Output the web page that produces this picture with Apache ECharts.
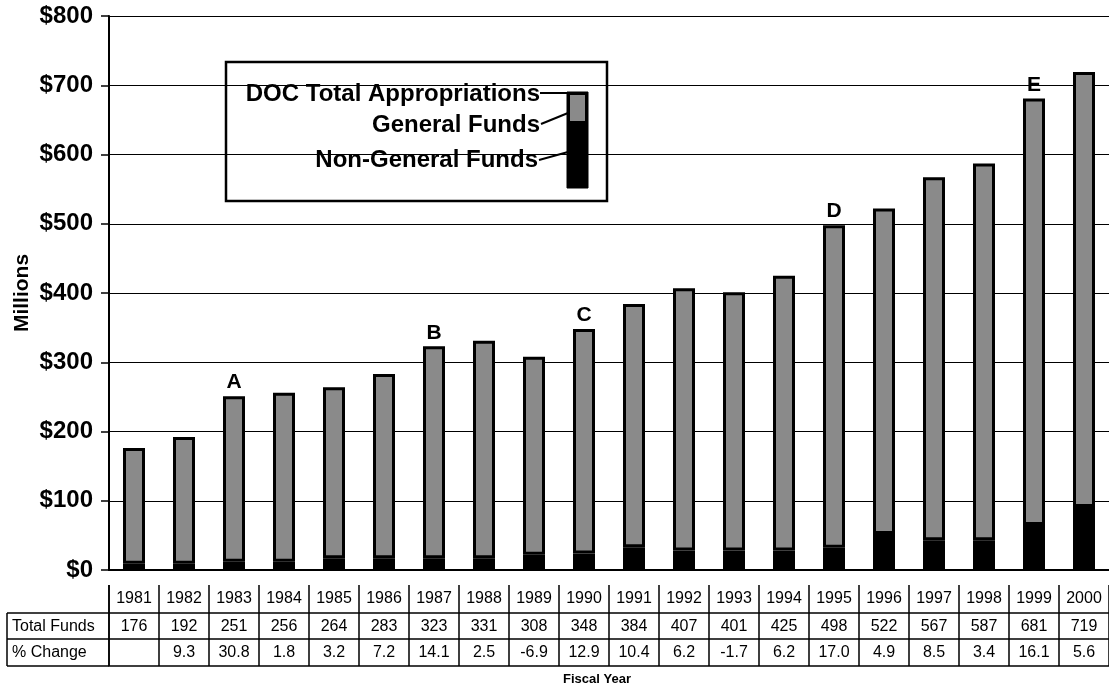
<!DOCTYPE html>
<html>
<head>
<meta charset="utf-8">
<script src="https://cdn.jsdelivr.net/npm/echarts@6/dist/echarts.min.js"></script>
<style>
html,body{margin:0;padding:0;background:#fff;}
#chart{width:1109px;height:690px;}
</style>
</head>
<body>
<div id="chart"></div>
<script>
const years = ['1981','1982','1983','1984','1985','1986','1987','1988','1989','1990','1991','1992','1993','1994','1995','1996','1997','1998','1999','2000'];
const totalFunds = [176,192,251,256,264,283,323,331,308,348,384,407,401,425,498,522,567,587,681,719];
const nonGeneralFunds = [9,9,12,12,17,17,17,17,22,24,33,28,28,28,32,52,43,43,65,91];
const pctChange = ['','9.3','30.8','1.8','3.2','7.2','14.1','2.5','-6.9','12.9','10.4','6.2','-1.7','6.2','17.0','4.9','8.5','3.4','16.1','5.6'];
const annotations = ['','','A','','','','B','','','C','','','','','D','','','','E',''];
const yTicks = [0,100,200,300,400,500,600,700,800];

const generalFunds = totalFunds.map((t, i) => t - nonGeneralFunds[i]);
const FONT = '"Liberation Sans", Arial, sans-serif';

const chart = echarts.init(document.getElementById('chart'), null, {renderer: 'canvas'});

function tableAxis(offset, labels, tickLen, margin, showLabels) {
  return {
    type: 'category',
    data: years,
    gridIndex: 0,
    position: 'bottom',
    offset: offset,
    axisLine: {show: true, lineStyle: {color: '#000', width: 1.5}},
    axisTick: {show: true, inside: true, length: tickLen, interval: 0, lineStyle: {color: '#000', width: 1.5}},
    axisLabel: {
      show: showLabels, interval: 0, margin: margin,
      formatter: (v, i) => labels ? labels[i] : v,
      fontFamily: FONT, fontSize: 16, color: '#000'
    },
    splitLine: {show: false}
  };
}

const option = {
  animation: false,
  backgroundColor: '#fff',
  grid: {left: 109, top: 16, width: 1004, height: 554, containLabel: false},
  xAxis: [
    {
      type: 'category',
      data: years,
      position: 'bottom',
      axisLine: {show: true, lineStyle: {color: '#000', width: 2}},
      axisTick: {show: false},
      axisLabel: {show: true, interval: 0, margin: 21, fontFamily: FONT, fontSize: 16, color: '#000'},
      splitLine: {show: false}
    },
    tableAxis(43, totalFunds, 28, 6, true),
    tableAxis(69, pctChange, 26, 6, true),
    tableAxis(96, null, 27, 6, false)
  ],
  yAxis: {
    type: 'value',
    min: 0, max: 800, interval: 100,
    name: 'Millions',
    nameLocation: 'middle',
    nameGap: 76,
    nameMoveOverlap: false,
    nameRotate: 90,
    nameTextStyle: {fontFamily: FONT, fontSize: 21, fontWeight: 'bold', color: '#000'},
    axisLine: {show: true, lineStyle: {color: '#000', width: 2}},
    axisTick: {show: true, length: 8, lineStyle: {color: '#000', width: 1.5}},
    axisLabel: {
      margin: 16,
      formatter: v => yTicks.includes(v) ? '$' + v : '',
      fontFamily: FONT, fontSize: 24, fontWeight: 'bold', color: '#000'
    },
    splitLine: {show: true, lineStyle: {color: '#000', width: 1.2}}
  },
  series: [
    {
      name: 'Non-General Funds',
      type: 'bar',
      stack: 'doc',
      data: nonGeneralFunds,
      barWidth: 22,
      itemStyle: {color: '#000', borderColor: '#000', borderWidth: 3}
    },
    {
      name: 'General Funds',
      type: 'bar',
      stack: 'doc',
      data: generalFunds,
      barWidth: 22,
      itemStyle: {color: '#8a8a8a', borderColor: '#000', borderWidth: 3},
      label: {
        show: true,
        position: 'top',
        distance: 3,
        formatter: p => annotations[p.dataIndex],
        fontFamily: FONT, fontSize: 21, fontWeight: 'bold', color: '#000'
      }
    }
  ],
  graphic: [
    {type: 'line', z: 10, shape: {x1: 7, y1: 613, x2: 109, y2: 613}, style: {stroke: '#000', lineWidth: 1.5}},
    {type: 'line', z: 10, shape: {x1: 7, y1: 639, x2: 109, y2: 639}, style: {stroke: '#000', lineWidth: 1.5}},
    {type: 'line', z: 10, shape: {x1: 7, y1: 666, x2: 109, y2: 666}, style: {stroke: '#000', lineWidth: 1.5}},
    {type: 'line', z: 10, shape: {x1: 7, y1: 613, x2: 7, y2: 666}, style: {stroke: '#000', lineWidth: 1.5}},
    {type: 'line', z: 10, shape: {x1: 109, y1: 585, x2: 109, y2: 666}, style: {stroke: '#000', lineWidth: 1.5}},
    {type: 'text', z: 10, left: 12, top: 619, style: {text: 'Total Funds', font: '16px ' + FONT, fill: '#000'}},
    {type: 'text', z: 10, left: 12, top: 645, style: {text: '% Change', font: '16px ' + FONT, fill: '#000'}},
    {type: 'text', z: 10, left: 563, top: 673, style: {text: 'Fiscal Year', font: 'bold 13px ' + FONT, fill: '#000'}},
    {
      type: 'group', z: 100,
      children: [
        {type: 'rect', shape: {x: 226, y: 62, width: 381, height: 139}, style: {fill: '#fff', stroke: '#000', lineWidth: 2.5}},
        {type: 'rect', shape: {x: 567, y: 92, width: 21, height: 96}, style: {fill: '#000', stroke: '#000', lineWidth: 1}},
        {type: 'rect', shape: {x: 570, y: 95, width: 15, height: 26}, style: {fill: '#8a8a8a'}},
        {type: 'text', style: {text: 'DOC Total Appropriations', x: 540, y: 94, textAlign: 'right', textVerticalAlign: 'middle', font: 'bold 24px ' + FONT, fill: '#000'}},
        {type: 'text', style: {text: 'General Funds', x: 540, y: 125, textAlign: 'right', textVerticalAlign: 'middle', font: 'bold 24px ' + FONT, fill: '#000'}},
        {type: 'text', style: {text: 'Non-General Funds', x: 538, y: 160, textAlign: 'right', textVerticalAlign: 'middle', font: 'bold 24px ' + FONT, fill: '#000'}},
        {type: 'polyline', shape: {points: [[540, 93], [568, 93]]}, style: {stroke: '#000', lineWidth: 2, fill: null}},
        {type: 'polyline', shape: {points: [[541, 124], [568, 113]]}, style: {stroke: '#000', lineWidth: 2, fill: null}},
        {type: 'polyline', shape: {points: [[539, 160], [568, 152]]}, style: {stroke: '#000', lineWidth: 2, fill: null}}
      ]
    }
  ]
};
chart.setOption(option);
</script>
</body>
</html>
